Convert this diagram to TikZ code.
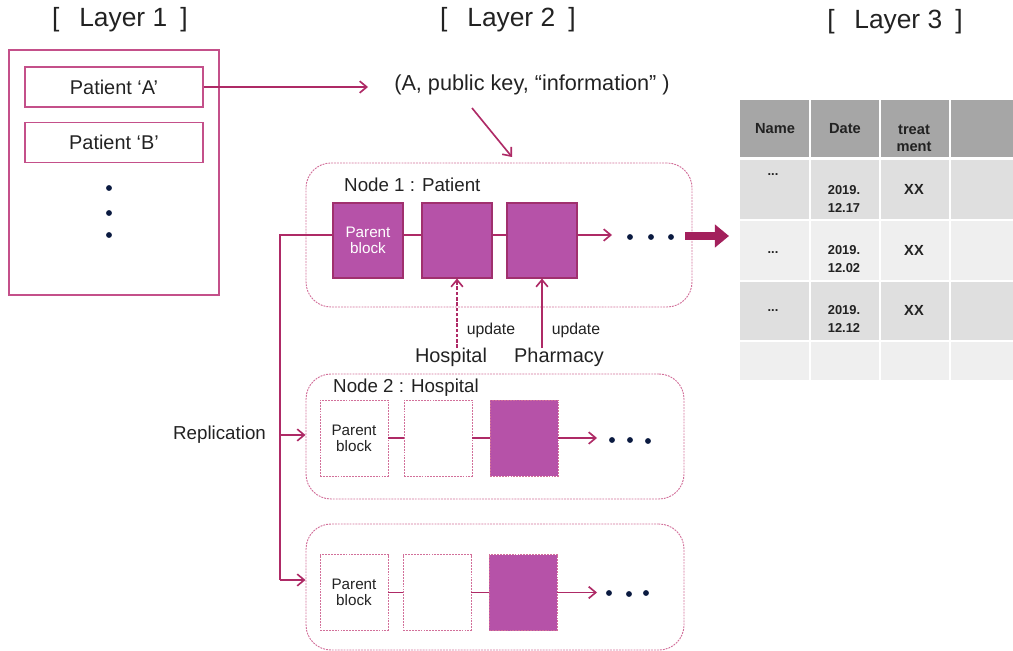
\documentclass[tikz,border=0pt]{standalone}
\usepackage{fontspec}
\setmainfont{Liberation Sans}
\usetikzlibrary{arrows.meta}
\definecolor{ln}{HTML}{AE2A66}
\definecolor{frm}{HTML}{C4508A}
\definecolor{dsh}{HTML}{D2709A}
\definecolor{blkf}{HTML}{B652A8}
\definecolor{blkd}{HTML}{A0306E}
\definecolor{thk}{HTML}{A3205C}
\definecolor{dotc}{HTML}{0A1A40}
\definecolor{hdr}{HTML}{A6A6A6}
\definecolor{rowa}{HTML}{DFDFDF}
\definecolor{rowb}{HTML}{EFEFEF}
\definecolor{txt}{HTML}{222222}
\newcommand{\px}{0.03cm}
\newcommand{\fsz}[2]{\fontsize{#1}{#2}\selectfont}
\tikzset{
  conn/.style={draw=ln, line width=1.4pt},
  arr/.style={conn, -{Straight Barb[length=6pt,width=10pt,line width=1.4pt]}},
  frame/.style={draw=frm, line width=0.9pt, inner sep=0pt},
  pbox/.style={frame, minimum width=178*\px, minimum height=40*\px, font=\fsz{17pt}{20pt}, text=txt},
  nodebox/.style={draw=dsh, line width=0.8pt, dash pattern=on 1.6pt off 0.9pt, rounded corners=0.75cm, inner sep=0pt},
  blk/.style={draw=blkd, line width=0.9pt, fill=blkf, minimum width=70*\px, minimum height=75*\px, inner sep=0pt, align=center, font=\fsz{13pt}{13.8pt}, text=white},
  dblk/.style={draw=dsh, line width=0.8pt, dash pattern=on 1.6pt off 0.9pt, minimum width=68*\px, minimum height=76*\px, inner sep=0pt, align=center, font=\fsz{13pt}{13.8pt}, text=txt},
  dfblk/.style={dblk, fill=blkf},
  bigdot/.style={circle, fill=dotc, inner sep=0pt, minimum size=5pt},
  lbl/.style={inner sep=0pt, text=txt},
  ttx/.style={inner sep=0pt, font=\fsz{11pt}{15pt}\bfseries, text=txt, align=center},
  htx/.style={inner sep=0pt, font=\fsz{12.5pt}{14.5pt}\bfseries, text=txt, align=center},
}
\begin{document}
\begin{tikzpicture}[x=0.03cm, y=-0.03cm]
\useasboundingbox (0,0) rectangle (1013,651);

% Layer titles
\node[lbl, font=\fsz{22.5pt}{26pt}] (lay1) at (120,20) {[\hspace{0.75em}Layer 1\hspace{0.5em}]};
\node[lbl, font=\fsz{22.5pt}{26pt}] (lay2) at (508,20) {[\hspace{0.75em}Layer 2\hspace{0.5em}]};
\node[lbl, font=\fsz{22.5pt}{26pt}] (lay3) at (895,22) {[\hspace{0.75em}Layer 3\hspace{0.5em}]};

% Layer 1
\node[frame, minimum width=210*\px, minimum height=245*\px] (l1) at (114,172.5) {};
\node[pbox] (pa) at (114,87) {Patient ‘A’};
\node[pbox] (pb) at (114,142.5) {Patient ‘B’};
\node[bigdot] (d1) at (109,188) {};
\node[bigdot] (d2) at (109,213) {};
\node[bigdot] (d3) at (109,235) {};

% tuple
\node[lbl, font=\fsz{18.5pt}{22pt}] (tup) at (532,85) {(A, public key, “information” )};
\coordinate (tA) at (368,87);
\draw[arr] (pa.east) -- (tA);
\coordinate (s1) at (472,108);
\coordinate (s2) at (512,157);
\draw[arr] (s1) -- (s2);

% Node 1
\node[nodebox, minimum width=386*\px, minimum height=144*\px] (n1) at (499,235) {};
\node[lbl, anchor=west, font=\fsz{16pt}{19pt}] (n1t) at (344,185) {Node 1 : Patient};
\node[blk] (b11) at (368,240.5) {Parent\\block};
\node[blk] (b12) at (457,240.5) {};
\node[blk] (b13) at (542,240.5) {};
\draw[conn] ([yshift=0.165cm]b11.east) -- ([yshift=0.165cm]b12.west);
\draw[conn] ([yshift=0.165cm]b12.east) -- ([yshift=0.165cm]b13.west);
\coordinate (e1) at (612,235);
\draw[arr] ([yshift=0.165cm]b13.east) -- (e1);
\node[bigdot] (p11) at (630,237) {};
\node[bigdot] (p12) at (651,237) {};
\node[bigdot] (p13) at (671,237) {};
\coordinate (k1) at (685,236);
\coordinate (k2) at (729,236);
\draw[draw=thk, line width=7pt, -{Triangle[length=12pt,width=19pt]}] (k1) -- (k2);

% update
\node[lbl, font=\fsz{17pt}{20pt}] (hosp) at (451,357) {Hospital};
\node[lbl, font=\fsz{17pt}{20pt}] (phar) at (559,357) {Pharmacy};
\node[lbl, font=\fsz{13.5pt}{16pt}] (up1) at (491,330) {update};
\node[lbl, font=\fsz{13.5pt}{16pt}] (up2) at (576,330) {update};
\coordinate (hu) at (457,348);
\coordinate (pu) at (542,348);
\draw[arr, dash pattern=on 3pt off 1.5pt] (hu) -- (b12.south);
\draw[arr] (pu) -- (b13.south);

% left replication line
\coordinate (c1) at (280,235);
\coordinate (c2) at (280,435);
\coordinate (c3) at (280,580);
\node[lbl, font=\fsz{16pt}{19pt}] (rep) at (219.5,435) {Replication};

% Node 2
\node[nodebox, minimum width=378*\px, minimum height=125*\px] (n2) at (495,436.5) {};
\node[lbl, anchor=west, font=\fsz{16pt}{19pt}] (n2t) at (333,388) {Node 2 : Hospital};
\node[dblk] (b21) at (354,438) {Parent\\block};
\node[dblk] (b22) at (438,438) {};
\node[dfblk] (b23) at (524,438) {};
\draw[conn] (b21.east) -- (b22.west);
\draw[conn] (b22.east) -- (b23.west);
\coordinate (e2) at (597,438);
\draw[arr] (b23.east) -- (e2);
\node[bigdot] (p21) at (612,440) {};
\node[bigdot] (p22) at (630,440) {};
\node[bigdot] (p23) at (648,441) {};

% Node 3
\node[nodebox, minimum width=378*\px, minimum height=126*\px] (n3) at (495,587) {};
\node[dblk] (b31) at (354,592.5) {Parent\\block};
\node[dblk] (b32) at (437,592.5) {};
\node[dfblk] (b33) at (523,592.5) {};
\draw[conn] (b31.east) -- (b32.west);
\draw[conn] (b32.east) -- (b33.west);
\coordinate (e3) at (597,592.5);
\draw[arr] (b33.east) -- (e3);
\node[bigdot] (p31) at (609,593) {};
\node[bigdot] (p32) at (629,594) {};
\node[bigdot] (p33) at (646,593) {};

\draw[conn] ([yshift=0.165cm]b11.west) -- (c1) -- (c3);
\draw[arr] (c2) -- (n2.west |- c2);
\draw[arr] (c3) -- (n3.west |- c3);

% Table
\foreach \xa/\xb in {740/809, 811/879, 881/949, 951/1013}{
  \fill[hdr] (\xa,100) rectangle (\xb,157);
  \fill[rowa] (\xa,160) rectangle (\xb,219);
  \fill[rowb] (\xa,221) rectangle (\xb,280);
  \fill[rowa] (\xa,282) rectangle (\xb,340);
  \fill[rowb] (\xa,342) rectangle (\xb,380);
}
\node[htx] (h1) at (775,129) {Name};
\node[htx] (h2) at (845,129) {Date};
\node[htx] (h3) at (914,138) {treat\\ment};
\node[ttx] (r1a) at (773,175) {...};
\node[ttx] (r1b) at (844,199) {2019.\\12.17};
\node[htx] (r1c) at (914,189) {XX};
\node[ttx] (r2a) at (773,253) {...};
\node[ttx] (r2b) at (844,259) {2019.\\12.02};
\node[htx] (r2c) at (914,250) {XX};
\node[ttx] (r3a) at (773,311) {...};
\node[ttx] (r3b) at (844,319) {2019.\\12.12};
\node[htx] (r3c) at (914,310) {XX};
\end{tikzpicture}
\end{document}
